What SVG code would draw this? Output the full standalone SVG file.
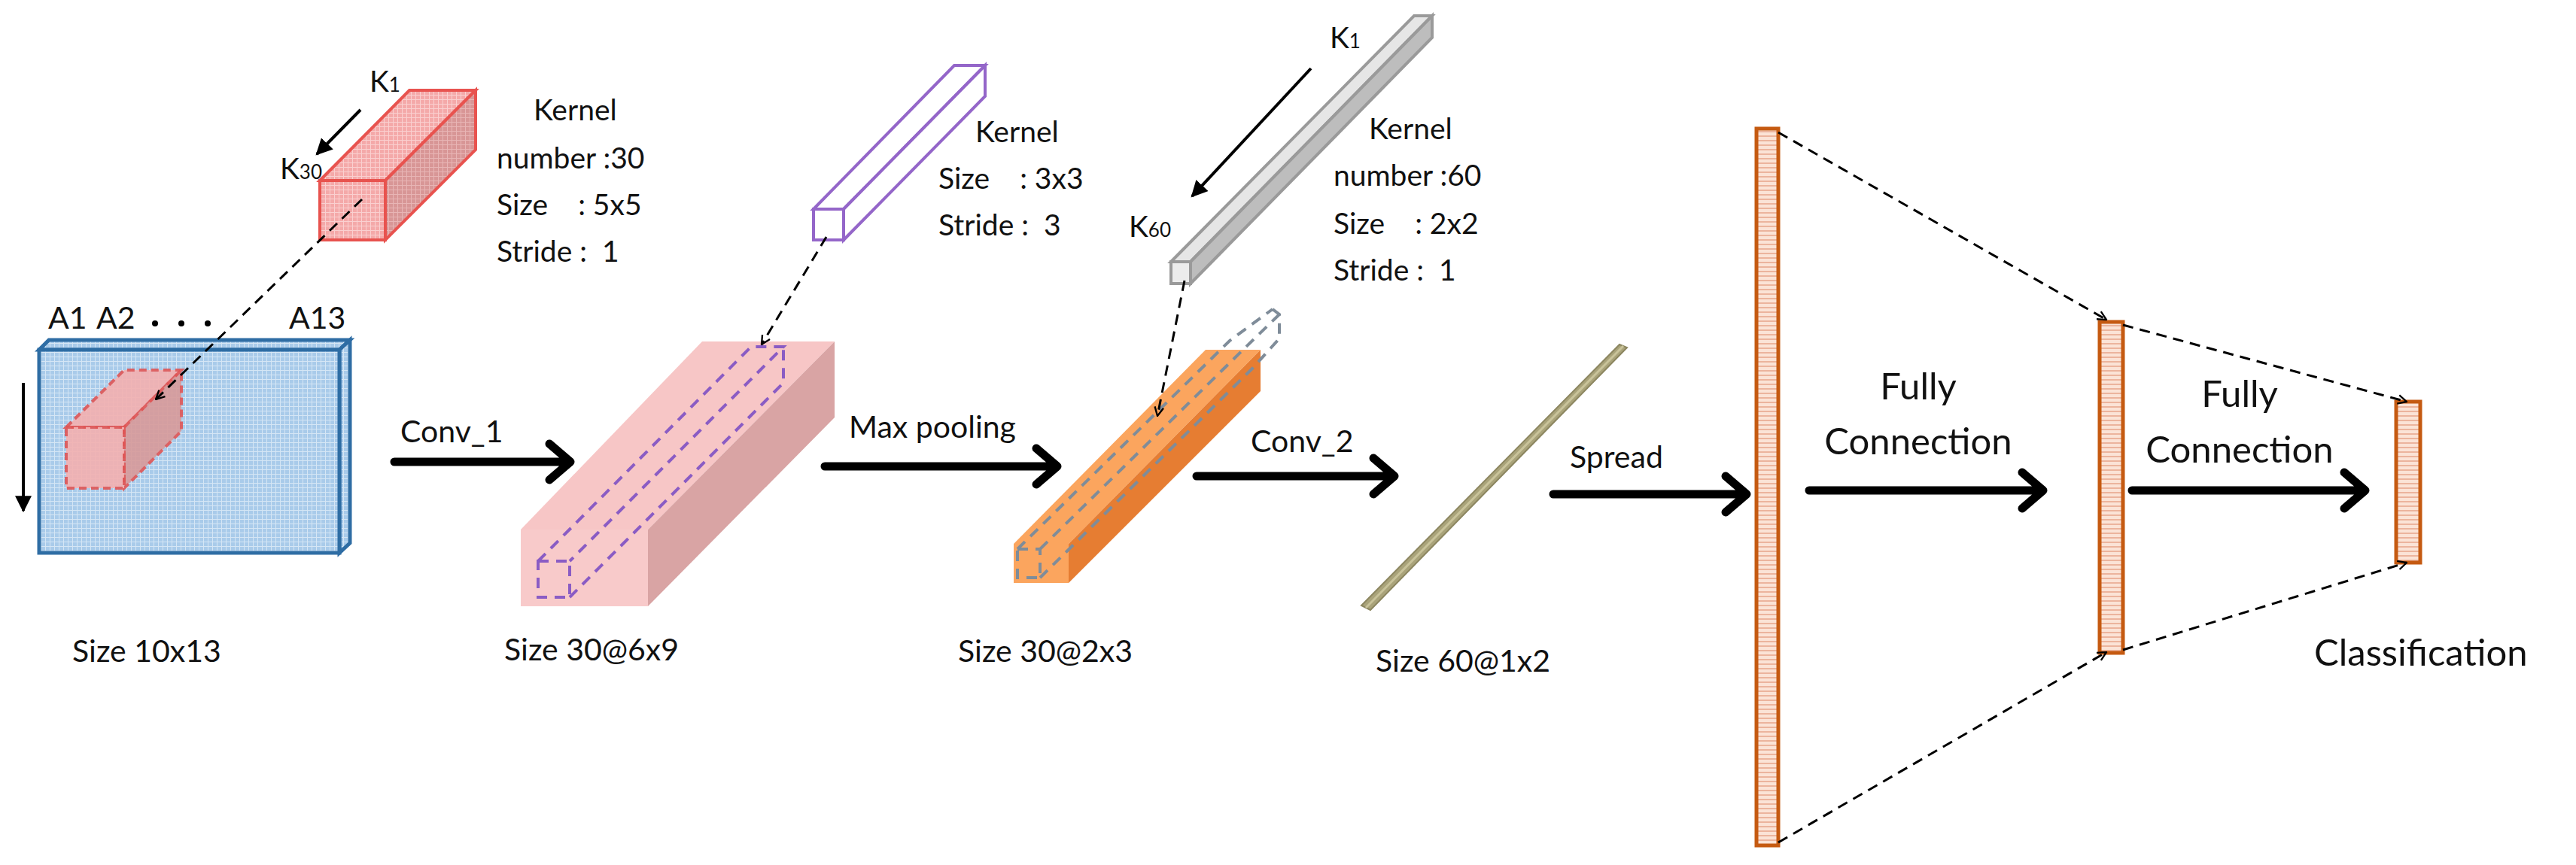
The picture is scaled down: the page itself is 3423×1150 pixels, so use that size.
<svg xmlns="http://www.w3.org/2000/svg" width="3423" height="1150" viewBox="0 0 3423 1150">
<style>
text{font-family:Lato,"Liberation Sans",sans-serif;fill:#111;white-space:pre}
.k{font-size:39px}
.s{font-size:41px}
.f{font-size:49px}
.dash{stroke:#000;stroke-width:3;stroke-dasharray:14 9;fill:none}
.bar{stroke:#C55A11;stroke-width:5;fill:url(#hs)}
</style>
<defs>
<pattern id="grid" width="6" height="6" patternUnits="userSpaceOnUse"><rect width="6" height="6" fill="#A9CBEA"/><path d="M0 .5H6M.5 0V6" stroke="#D5E6F5" stroke-width="1"/></pattern>
<pattern id="rgrid" width="6" height="6" patternUnits="userSpaceOnUse"><rect width="6" height="6" fill="#F4A9A9"/><path d="M0 .5H6M.5 0V6" stroke="#FAD0D0" stroke-width="1"/></pattern>
<pattern id="rgrid2" width="6" height="6" patternUnits="userSpaceOnUse"><rect width="6" height="6" fill="#D89696"/><path d="M0 .5H6M.5 0V6" stroke="#E8B5B5" stroke-width="1"/></pattern>
<pattern id="hs" width="8" height="6" patternUnits="userSpaceOnUse"><rect width="8" height="6" fill="#FBE3D6"/><path d="M0 1H8" stroke="#E7A58A" stroke-width="1.5"/></pattern>
<marker id="open" viewBox="0 0 12 12" refX="11" refY="6" markerWidth="14" markerHeight="14" markerUnits="userSpaceOnUse" orient="auto"><path d="M1 1L11 6L1 11" fill="none" stroke="#000" stroke-width="2"/></marker>
<marker id="sol" viewBox="0 0 10 10" refX="9" refY="5" markerWidth="22" markerHeight="22" markerUnits="userSpaceOnUse" orient="auto"><path d="M0 0L10 5L0 10Z" fill="#000"/></marker>
</defs>

<g id="input">
<polygon points="52,465 65,452 465,452 451,465" fill="url(#grid)" stroke="#2E6DA4" stroke-width="5"/>
<polygon points="451,465 465,452 465,722 451,735" fill="url(#grid)" stroke="#2E6DA4" stroke-width="5"/>
<rect x="52" y="465" width="399" height="270" fill="url(#grid)" stroke="#2E6DA4" stroke-width="5"/>
<polygon points="88,568 165,492 241,492 165,568" fill="#F4B0B0" opacity=".9" stroke="#E05555" stroke-width="4" stroke-dasharray="10 6"/>
<polygon points="165,568 241,492 241,573 165,649" fill="#D89A9A" opacity=".9" stroke="#E05555" stroke-width="4" stroke-dasharray="10 6"/>
<rect x="88" y="568" width="77" height="81" fill="#F4B0B0" opacity=".9" stroke="#E05555" stroke-width="4" stroke-dasharray="10 6"/>
<text class="s" x="64" y="437">A1</text><text class="s" x="128" y="437">A2</text>
<circle cx="206" cy="430" r="4" fill="#000"/><circle cx="241" cy="430" r="4" fill="#000"/><circle cx="276" cy="430" r="4" fill="#000"/>
<text class="s" x="384" y="437">A13</text>
<text class="s" x="96" y="880">Size 10x13</text>
</g>

<g id="kernel1">
<polygon points="425,240 544,120 632,120 512,240" fill="url(#rgrid)" stroke="#E8534F" stroke-width="4"/>
<polygon points="512,240 632,120 632,199 512,319" fill="url(#rgrid2)" stroke="#E8534F" stroke-width="4"/>
<rect x="425" y="240" width="87" height="79" fill="url(#rgrid)" stroke="#E8534F" stroke-width="4"/>
<text class="k" x="491" y="122">K<tspan font-size="26">1</tspan></text>
<text class="k" x="372" y="238">K<tspan font-size="26">30</tspan></text>
<text class="k" x="709" y="160">Kernel</text>
<text class="k" x="660" y="224">number :30</text>
<text class="k" x="660" y="286">Size    : 5x5</text>
<text class="k" x="660" y="348">Stride :  1</text>
</g>

<g id="conv1out">
<polygon points="692,704 933,454 1109,454 861,704" fill="#F7C6C6"/>
<polygon points="861,704 1109,454 1109,555 861,806" fill="#D9A4A4"/>
<rect x="692" y="704" width="169" height="102" fill="#F8CACA"/>
<g stroke="#8A5CC4" stroke-width="4" stroke-dasharray="14 10" fill="none">
<rect x="715" y="746" width="42" height="48"/>
<path d="M715 746L998 461L1041 461L757 746M757 794L1041 509L1041 461"/>
</g>
<text class="s" x="670" y="878">Size 30@6x9</text>
</g>

<g id="kernel2">
<polygon points="1081,278 1268,87 1309,87 1121,278" fill="#fff" stroke="#9466C9" stroke-width="4"/>
<polygon points="1121,278 1309,87 1309,128 1121,319" fill="#fff" stroke="#9466C9" stroke-width="4"/>
<rect x="1081" y="278" width="40" height="41" fill="#fff" stroke="#9466C9" stroke-width="4"/>
<text class="k" x="1296" y="189">Kernel</text>
<text class="k" x="1247" y="251">Size    : 3x3</text>
<text class="k" x="1247" y="313">Stride :  3</text>
</g>

<g id="pool">
<polygon points="1347,723 1602,465 1675,465 1420,723" fill="#FBA55E"/>
<polygon points="1420,723 1675,465 1675,520 1420,775" fill="#E67D32"/>
<rect x="1347" y="723" width="73" height="52" fill="#FBA55E"/>
<g stroke="#7F8C99" stroke-width="4" stroke-dasharray="14 10" fill="none">
<rect x="1352" y="730" width="30" height="38"/>
<path d="M1352 730L1634 453L1691 411M1382 730L1664 453L1700 418M1382 768L1664 490L1700 450L1700 418L1691 411"/>
</g>
<text class="s" x="1273" y="880">Size 30@2x3</text>
</g>

<g id="kernel3">
<polygon points="1556,348 1879,21 1903,21 1582,348" fill="#E6E6E6" stroke="#9A9A9A" stroke-width="4"/>
<polygon points="1582,348 1903,21 1903,50 1582,377" fill="#BDBDBD" stroke="#9A9A9A" stroke-width="4"/>
<rect x="1556" y="348" width="26" height="29" fill="#ECECEC" stroke="#9A9A9A" stroke-width="4"/>
<text class="k" x="1767" y="64">K<tspan font-size="26">1</tspan></text>
<text class="k" x="1500" y="315">K<tspan font-size="26">60</tspan></text>
<text class="k" x="1819" y="185">Kernel</text>
<text class="k" x="1772" y="247">number :60</text>
<text class="k" x="1772" y="311">Size    : 2x2</text>
<text class="k" x="1772" y="373">Stride :  1</text>
</g>

<g id="conv2out">
<polygon points="1809,805 2152,458 2162,462 1821,811" fill="#A9A37A" stroke="#8C8660" stroke-width="2"/>
<path d="M1815 808L2157 460" stroke="#C9C39A" stroke-width="3"/>
<text class="s" x="1828" y="893">Size 60@1x2</text>
</g>

<g id="fc1"><rect class="bar" x="2334" y="171" width="29" height="953"/></g>
<g id="fc2"><rect class="bar" x="2790" y="428" width="31" height="440"/></g>
<g id="fc3"><rect class="bar" x="3184" y="534" width="32" height="214"/>
<text class="f" x="3075" y="885">Classification</text></g>

<g id="labels">
<text class="s" x="532" y="588">Conv_1</text>
<text class="s" x="1128" y="582">Max pooling</text>
<text class="s" x="1662" y="601">Conv_2</text>
<text class="s" x="2086" y="622">Spread</text>
<text class="f" x="2549" y="531" text-anchor="middle">Fully</text>
<text class="f" x="2549" y="604" text-anchor="middle">Connection</text>
<text class="f" x="2976" y="541" text-anchor="middle">Fully</text>
<text class="f" x="2976" y="615" text-anchor="middle">Connection</text>
</g>

<g id="connectors">
<path d="M31 509V679" stroke="#000" stroke-width="4" marker-end="url(#sol)"/>
<path d="M479 146L421 205" stroke="#000" stroke-width="4" marker-end="url(#sol)"/>
<path d="M1742 91L1584 261" stroke="#000" stroke-width="4" marker-end="url(#sol)"/>
<g stroke="#000" stroke-width="11" fill="none" stroke-linecap="round" stroke-linejoin="round">
<path d="M524 614H755M730 590L758 614L730 638"/>
<path d="M1096 620H1402M1377 596L1405 620L1377 644"/>
<path d="M1590 633H1850M1825 609L1853 633L1825 657"/>
<path d="M2064 657H2318M2293 633L2321 657L2293 681"/>
<path d="M2404 652H2712M2687 628L2715 652L2687 676"/>
<path d="M2833 652H3140M3115 628L3143 652L3115 676"/>
</g>
<path class="dash" d="M481 265L207 531" marker-end="url(#open)"/>
<path class="dash" d="M1098 315L1012 458" marker-end="url(#open)"/>
<path class="dash" d="M1574 373L1538 553" marker-end="url(#open)"/>
<path class="dash" d="M2363 176L2799 425" marker-end="url(#open)"/>
<path class="dash" d="M2363 1120L2799 867" marker-end="url(#open)"/>
<path class="dash" d="M2821 432L3198 534" marker-end="url(#open)"/>
<path class="dash" d="M2821 864L3198 748" marker-end="url(#open)"/>
</g>
</svg>
